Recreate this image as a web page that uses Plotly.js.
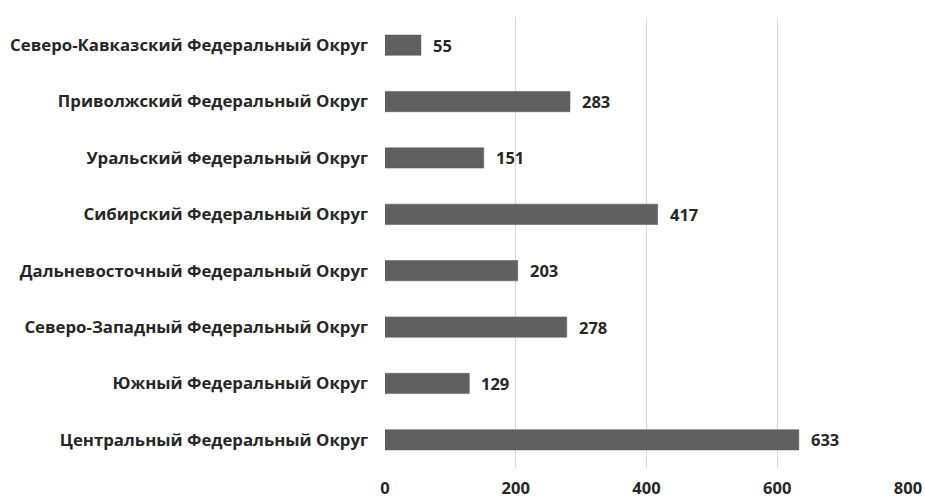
<!DOCTYPE html>
<html><head><meta charset="utf-8">
<script src="https://cdn.plot.ly/plotly-3.0.1.min.js"></script>
<style>html,body{margin:0;padding:0;background:#fff}</style>
</head><body>
<div id="chart" style="width:925px;height:501px"></div>
<script>
const categories = [
  "Центральный Федеральный Округ",
  "Южный Федеральный Округ",
  "Северо-Западный Федеральный Округ",
  "Дальневосточный Федеральный Округ",
  "Сибирский Федеральный Округ",
  "Уральский Федеральный Округ",
  "Приволжский Федеральный Округ",
  "Северо-Кавказский Федеральный Округ"
];
const values = [633, 129, 278, 203, 417, 151, 283, 55];
const tickVals = [0, 200, 400, 600, 800];

const FONT = "'Open Sans', 'DejaVu Sans', sans-serif";

const trace = {
  type: 'bar', orientation: 'h',
  x: values, y: categories,
  marker: {color: '#606060', line: {color: '#555555', width: 0.5}},
  width: 0.36,
  hoverinfo: 'none'
};

const annotations = values.map((v, i) => ({
  x: v, y: categories[i], xref: 'x', yref: 'y',
  text: '<b>' + v + '</b>', showarrow: false,
  xanchor: 'left', yanchor: 'middle', xshift: 10,
  font: {family: FONT, size: 16.5, color: '#262626'}
}));

const layout = {
  width: 925, height: 501,
  margin: {l: 385, r: 17, t: 17, b: 33},
  paper_bgcolor: '#fff', plot_bgcolor: '#fff',
  showlegend: false,
  xaxis: {
    range: [0, 800], tickvals: tickVals, ticktext: tickVals.map(t => '<b>' + t + '</b>'),
    showgrid: true, gridcolor: '#d9d9d9', gridwidth: 1,
    zeroline: false, showline: false, ticks: '',
    ticklabelstandoff: 8,
    tickfont: {family: FONT, size: 16.5, color: '#262626'},
    fixedrange: true
  },
  yaxis: {
    categoryorder: 'array', categoryarray: categories,
    tickvals: categories, ticktext: categories.map(c => '<b>' + c + '</b>'),
    showgrid: false, zeroline: false, showline: false, ticks: '',
    ticklabelstandoff: 16,
    tickfont: {family: FONT, size: 16.8, color: '#262626'},
    fixedrange: true
  },
  annotations: annotations
};

Plotly.newPlot('chart', [trace], layout, {displayModeBar: false, staticPlot: true});
</script>
</body></html>
